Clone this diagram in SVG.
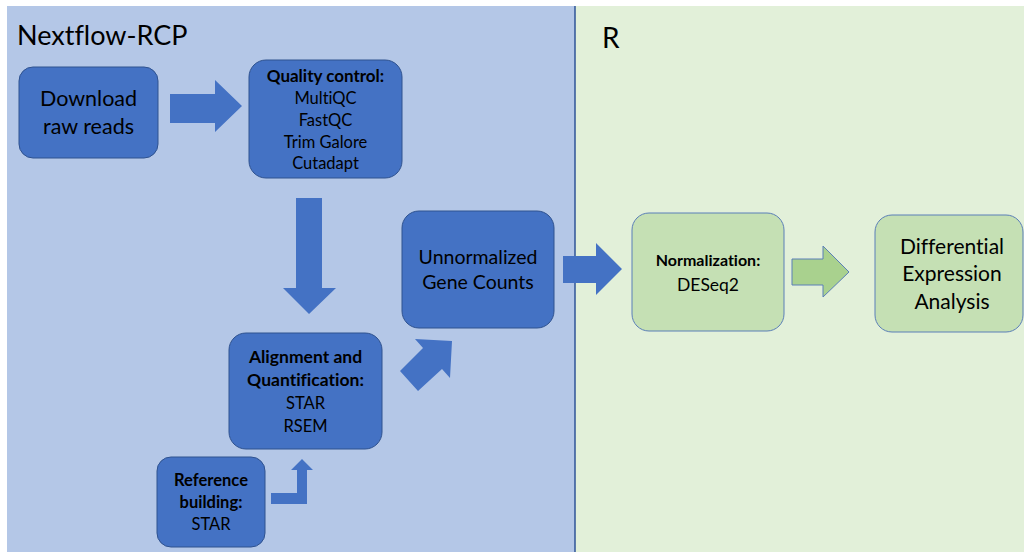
<svg xmlns="http://www.w3.org/2000/svg" width="1024" height="552" viewBox="0 0 1024 552">
<style>
text{font-variant-ligatures:none}
.t{font-family:Lato,"Liberation Sans",sans-serif;fill:#000;text-anchor:middle}
.b{font-weight:bold}
.bn{fill:#4472C4;stroke:#2F528F;stroke-width:1}
.gn{fill:#C5E0B4;stroke:#5B7FB8;stroke-width:1}
.ba{fill:#4472C4;stroke:none}
.ga{fill:#A9D18E;stroke:#5B7FB8;stroke-width:1}
</style>
<rect x="0" y="0" width="1024" height="552" fill="#FFFFFF"/>
<g id="panels">
<rect x="7" y="6" width="568" height="546" fill="#B4C7E7"/>
<rect x="575" y="6" width="449" height="546" fill="#E2F0D9"/>
<line x1="575" y1="6" x2="575" y2="552" stroke="#2F5597" stroke-width="1.5"/>
<text x="17" y="45" style="font-family:Lato,'Liberation Sans',sans-serif;font-size:27px">Nextflow-RCP</text>
<text x="602" y="48" style="font-family:Lato,'Liberation Sans',sans-serif;font-size:28px">R</text>
</g>
<g id="connectors">
<polygon class="ba" points="170,94 215,94 215,80 242,106 215,132 215,123 170,123"/>
<polygon class="ba" points="296,198 322,198 322,288 336,288 309,314 283,288 296,288"/>
<polygon class="ba" points="400,371 423,348 415,339 452,341 450,378 442,369 418,391"/>
<polygon class="ba" points="271,493 297,493 297,470 291,470 302,459 313,470 307,470 307,504 271,504"/>
<polygon class="ba" points="563,256 596,256 596,243 622,269 596,295 596,283 563,283"/>
<polygon class="ga" points="792,259 823,259 823,246 849,272 823,297 823,285 792,285"/>
</g>
<g id="download">
<rect class="bn" x="19" y="67" width="139" height="91" rx="14"/>
<text class="t" x="88.5" y="106" font-size="21.5">Download</text>
<text class="t" x="88.5" y="134" font-size="21.5">raw reads</text>
</g>
<g id="qc">
<rect class="bn" x="249" y="60" width="153" height="118" rx="17"/>
<text class="t b" x="325.5" y="82" font-size="17">Quality control:</text>
<text class="t" x="325.5" y="104" font-size="16.5">MultiQC</text>
<text class="t" x="325.5" y="126" font-size="16.5">FastQC</text>
<text class="t" x="325.5" y="148" font-size="16.5">Trim Galore</text>
<text class="t" x="325.5" y="169" font-size="16.5">Cutadapt</text>
</g>
<g id="counts">
<rect class="bn" x="402" y="211" width="152" height="117" rx="17"/>
<text class="t" x="478" y="264" font-size="19.5">Unnormalized</text>
<text class="t" x="478" y="289" font-size="19.5">Gene Counts</text>
</g>
<g id="align">
<rect class="bn" x="229" y="333" width="153" height="116" rx="17"/>
<text class="t b" x="305.5" y="363" font-size="17.5">Alignment and</text>
<text class="t b" x="305.5" y="386" font-size="17.5">Quantification:</text>
<text class="t" x="305.5" y="409" font-size="16.5">STAR</text>
<text class="t" x="305.5" y="432" font-size="16.5">RSEM</text>
</g>
<g id="reference">
<rect class="bn" x="157" y="457" width="108" height="90" rx="14"/>
<text class="t b" x="211" y="486" font-size="16.5">Reference</text>
<text class="t b" x="211" y="508" font-size="16.5">building:</text>
<text class="t" x="211" y="530" font-size="16.5">STAR</text>
</g>
<g id="normalization">
<rect class="gn" x="632" y="213" width="152" height="118" rx="17"/>
<text class="t b" x="708" y="266" font-size="16">Normalization:</text>
<text class="t" x="708" y="291" font-size="17.5">DESeq2</text>
</g>
<g id="dea">
<rect class="gn" x="875" y="215" width="148" height="117" rx="17"/>
<text class="t" x="952" y="254" font-size="21">Differential</text>
<text class="t" x="952" y="281" font-size="21">Expression</text>
<text class="t" x="952" y="309" font-size="21">Analysis</text>
</g>
</svg>
